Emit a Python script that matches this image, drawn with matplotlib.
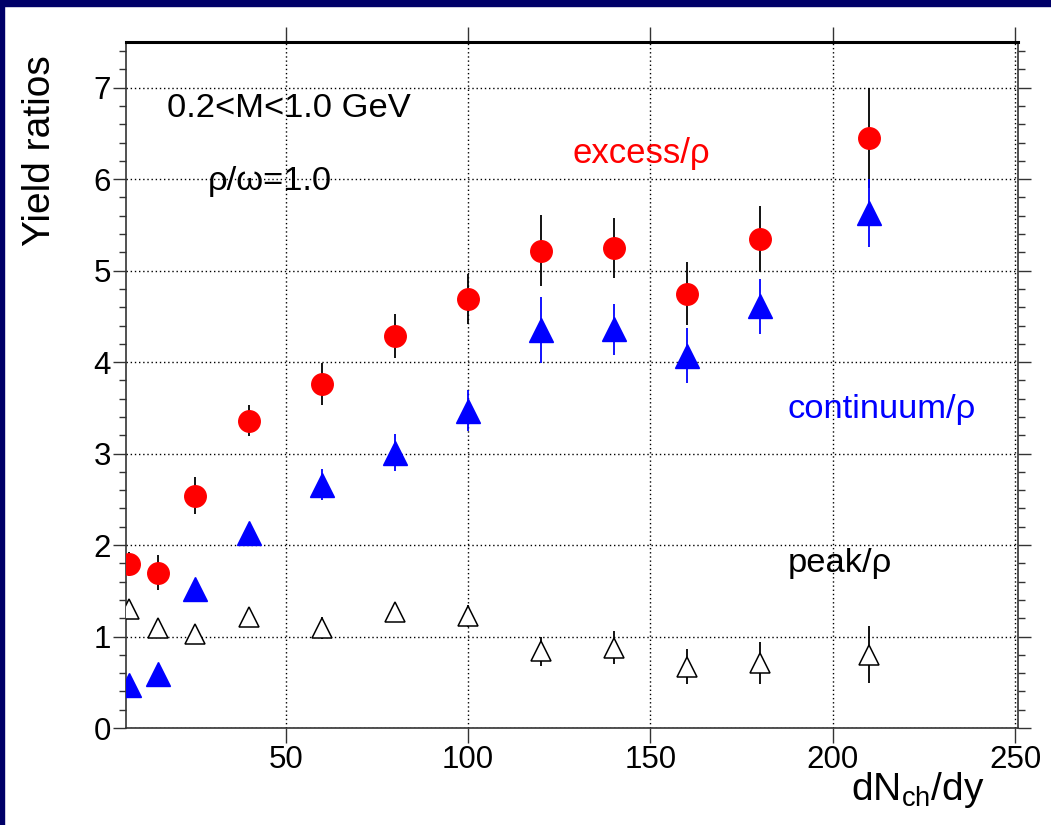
import matplotlib
matplotlib.use("Agg")
import matplotlib.pyplot as plt
from matplotlib.ticker import MultipleLocator
from matplotlib.patches import Rectangle

plt.rcParams['font.family'] = ['Liberation Sans', 'DejaVu Sans']
plt.rcParams['mathtext.fontset'] = 'custom'
plt.rcParams['mathtext.rm'] = 'Liberation Sans'
plt.rcParams['mathtext.it'] = 'Liberation Sans:italic'

# ---- data ----
dnch = [7, 15, 25, 40, 60, 80, 100, 120, 140, 160, 180, 210]
excess = [1.79, 1.70, 2.54, 3.36, 3.76, 4.29, 4.69, 5.22, 5.25, 4.75, 5.35, 6.45]
excess_err = [0.13, 0.19, 0.20, 0.17, 0.23, 0.24, 0.27, 0.39, 0.33, 0.34, 0.36, 0.55]
continuum = [0.47, 0.59, 1.52, 2.13, 2.66, 3.01, 3.47, 4.35, 4.36, 4.07, 4.61, 5.63]
continuum_err = [0.08, 0.10, 0.10, 0.08, 0.17, 0.20, 0.22, 0.36, 0.28, 0.30, 0.30, 0.37]
peak = [1.30, 1.09, 1.03, 1.21, 1.09, 1.27, 1.22, 0.84, 0.88, 0.67, 0.71, 0.80]
peak_err = [0.08, 0.06, 0.10, 0.06, 0.12, 0.10, 0.12, 0.16, 0.18, 0.19, 0.23, 0.31]

xticks = [50, 100, 150, 200, 250]
yticks = [0, 1, 2, 3, 4, 5, 6, 7]

W, H = 1051, 825
fig = plt.figure(figsize=(W / 100, H / 100), dpi=100)
fig.patch.set_facecolor('white')

# navy frame on left and top
fig.patches.append(Rectangle((0, 0), 4 / W, 1, transform=fig.transFigure,
                             color='#000068', zorder=0))
fig.patches.append(Rectangle((0, 1 - 6 / H), 1, 6 / H, transform=fig.transFigure,
                             color='#000068', zorder=0))

ax = fig.add_axes([126 / W, 1 - 728 / H, (1018 - 126) / W, (728 - 42) / H])
ax.set_xlim(6.2, 250.8)
ax.set_ylim(0, 7.5)

ax.set_xticks(xticks)
ax.set_yticks(yticks)
ax.yaxis.set_minor_locator(MultipleLocator(0.2))
ax.tick_params(axis='x', which='major', direction='out', length=10.8, width=1.0,
               top=True, bottom=True, labelsize=22.5, pad=1.5, color='#333333')
ax.tick_params(axis='y', which='major', direction='out', length=9.4, width=1.0,
               left=True, right=True, labelsize=22.5, pad=1.5, color='#333333')
ax.tick_params(axis='y', which='minor', direction='out', length=5, width=1.0,
               left=True, right=True, color='#333333')
for s in ['left', 'right', 'bottom']:
    ax.spines[s].set_linewidth(1.2)
    ax.spines[s].set_color('#333333')
ax.spines['top'].set_linewidth(2.2)
ax.spines['top'].set_color('black')

ax.grid(True, which='major', color='black', linestyle=(0, (1, 2)), linewidth=1.0)
ax.set_axisbelow(True)

# error bars
ax.errorbar(dnch, excess, yerr=excess_err, fmt='none', ecolor='black',
            elinewidth=1.3, capsize=0, zorder=3)
ax.errorbar(dnch, continuum, yerr=continuum_err, fmt='none', ecolor='blue',
            elinewidth=1.3, capsize=0, zorder=3)
ax.errorbar(dnch, peak, yerr=peak_err, fmt='none', ecolor='black',
            elinewidth=1.3, capsize=0, zorder=3)

# markers
ax.plot(dnch, excess, linestyle='none', marker='o', markersize=15.5,
        markerfacecolor='red', markeredgecolor='red', zorder=4)
ax.plot(dnch, continuum, linestyle='none', marker='^', markersize=17,
        markerfacecolor='blue', markeredgecolor='blue', zorder=4)
ax.plot(dnch, peak, linestyle='none', marker='^', markersize=14.5,
        markerfacecolor='white', markeredgecolor='black', markeredgewidth=1.1,
        zorder=4)

# annotations
ax.text(17.4, 6.68, '0.2<M<1.0 GeV', fontsize=24.8, color='black', va='baseline', ha='left')
ax.text(28.6, 5.88, 'ρ/ω=1.0', fontsize=24.8, color='black', va='baseline', ha='left')
ax.text(128.7, 6.18, 'excess/ρ', fontsize=25, color='red', va='baseline', ha='left')
ax.text(187.7, 3.39, 'continuum/ρ', fontsize=24.8, color='blue', va='baseline', ha='left')
ax.text(187.7, 1.71, 'peak/ρ', fontsize=24.8, color='black', va='baseline', ha='left')

# axis titles
fig.text(40 / W, 1 - 55 / H, 'Yield ratios', rotation=90, fontsize=28,
         ha='center', va='top')
fig.text(985 / W, 1 - 800 / H, r'$\mathrm{dN_{ch}/dy}$', fontsize=28,
         ha='right', va='baseline')

fig.savefig('out.png', dpi=100, facecolor='white')
